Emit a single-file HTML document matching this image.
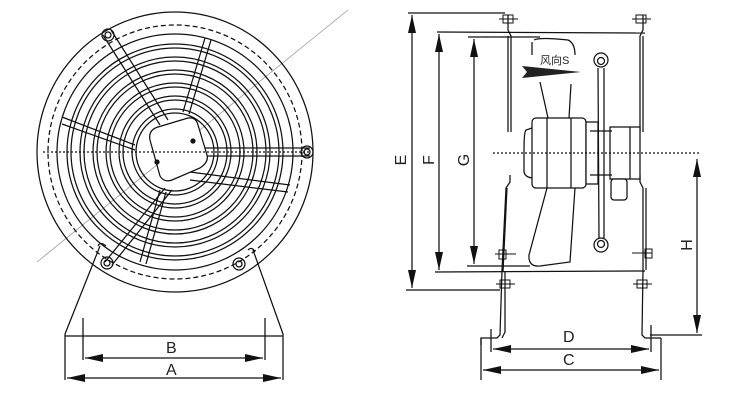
<!DOCTYPE html>
<html><head><meta charset="utf-8"><style>
html,body{margin:0;padding:0;background:#fff}
svg{display:block}
text{font-family:"Liberation Sans","Noto Sans CJK SC",sans-serif;fill:#222}
</style></head><body>
<svg width="750" height="400" viewBox="0 0 750 400" xmlns="http://www.w3.org/2000/svg">
<defs>
<marker id="arL" viewBox="0 0 18 8" refX="18" refY="4" markerWidth="18" markerHeight="8" orient="auto-start-reverse" markerUnits="userSpaceOnUse"><path d="M0,0 L18,4 L0,8 z" fill="#111"/></marker>
</defs>
<g fill="none" stroke="#111" stroke-width="1.25">
<!-- LEFT VIEW -->
<line x1="37" y1="262" x2="348" y2="10" stroke="#999" stroke-width="0.8"/>
<ellipse cx="175" cy="152" rx="138" ry="140"/>
<ellipse cx="175" cy="152" rx="127" ry="127" stroke-dasharray="5,3"/>
<circle cx="175" cy="152" r="118"/>
<circle cx="175" cy="152" r="108"/><circle cx="175" cy="152" r="104"/>
<circle cx="175" cy="152" r="95"/><circle cx="175" cy="152" r="91"/>
<circle cx="175" cy="152" r="82"/><circle cx="175" cy="152" r="78"/>
<circle cx="175" cy="152" r="69"/><circle cx="175" cy="152" r="65"/>
<circle cx="175" cy="152" r="56"/><circle cx="175" cy="152" r="52"/>
<circle cx="175" cy="152" r="43"/><circle cx="175" cy="152" r="39"/>
<path d="M103,35 L160,125 M111,30 L168,120"/>
<path d="M205,38 L183,112 M211,40 L189,114"/>
<path d="M62,117 L135,145 M62,124 L135,150"/>
<path d="M205,148 L310,148 M205,156 L310,156"/>
<path d="M190,172 L290,185 M190,180 L288,192"/>
<path d="M165,188 L105,262 M172,190 L112,265"/>
<path d="M160,190 L140,262 M166,192 L146,264"/>
<circle cx="108" cy="35" r="6"/><circle cx="108" cy="35" r="3"/>
<circle cx="307" cy="152" r="6"/><circle cx="307" cy="152" r="3"/>
<circle cx="107" cy="263" r="6"/><circle cx="107" cy="263" r="3"/>
<circle cx="239" cy="264" r="6"/><circle cx="239" cy="264" r="3"/>
<path d="M150,140 Q148,130 158,127 L188,118 Q196,117 198,125 L207,155 Q209,162 200,168 L172,180 Q164,183 160,176 Z" fill="#fff"/>
<line x1="43" y1="152" x2="310" y2="152" stroke-dasharray="2,2"/>
<circle cx="193" cy="141" r="2" fill="#111"/><circle cx="157" cy="162" r="2" fill="#111"/>
<path d="M100,246 L65,334 M253,250 L283,334"/>
<path d="M98,246 Q100,241 106,246 M248,250 Q252,246 255,252"/>
<path d="M65,334 L65,380 M283,334 L283,380 M83,318 L83,360 M265,318 L265,360"/>
<line x1="65" y1="336" x2="283" y2="336"/>
<line x1="85" y1="358" x2="263" y2="358" marker-start="url(#arL)" marker-end="url(#arL)"/>
<line x1="67" y1="378" x2="281" y2="378" marker-start="url(#arL)" marker-end="url(#arL)"/>

<!-- RIGHT VIEW -->
<line x1="408" y1="13" x2="505" y2="13"/><line x1="406" y1="290" x2="500" y2="290"/>
<line x1="412" y1="15" x2="412" y2="288" marker-start="url(#arL)" marker-end="url(#arL)"/>
<line x1="437" y1="32" x2="645" y2="33"/><line x1="435" y1="272" x2="645" y2="271"/>
<line x1="439" y1="34" x2="439" y2="270" marker-start="url(#arL)" marker-end="url(#arL)"/>
<line x1="468" y1="37" x2="540" y2="37"/><line x1="467" y1="266" x2="530" y2="266"/>
<line x1="474" y1="39" x2="474" y2="264" marker-start="url(#arL)" marker-end="url(#arL)"/>
<path d="M508,15 L508,30 L511,36 L511,132 M508,36 L508,132"/>
<path d="M510,175 L510,182 L506,188 L502,270 L500,335 L497,338 L481,338 L481,345"/>
<path d="M507,188 L503,272"/>
<path d="M643,15 L643,30 L640,36 L640,132 M643,36 L643,132"/>
<path d="M640,175 L640,182 L643,188 L643,270 L642,335 L645,338 L661,338"/>
<path d="M646,188 L646,270"/>
<path d="M505,272 L505,332 L502,338"/>
<g stroke-width="1">
<rect x="503" y="15" width="10" height="8"/><line x1="499" y1="19" x2="518" y2="19"/>
<rect x="636" y="15" width="10" height="8"/><line x1="632" y1="19" x2="651" y2="19"/>
<rect x="500" y="280" width="10" height="8"/><line x1="496" y1="284" x2="515" y2="284"/>
<rect x="637" y="280" width="10" height="8"/><line x1="633" y1="284" x2="652" y2="284"/>
<rect x="499" y="250" width="7" height="9"/><line x1="495" y1="254" x2="516" y2="254"/>
<rect x="645" y="249" width="7" height="9"/><line x1="632" y1="253" x2="652" y2="253"/>
</g>
<path d="M534,40 Q540,37 568,40 Q575,43 575,55 M532,42 L532,55"/>
<path d="M540,82 L548,118 M571,84 L569,118"/>
<path d="M547,188 L529,255 Q528,267 540,266 L570,262 L575,188"/>
<!-- guard bar continuous -->
<path d="M598,68 L599,238 M604,68 L604,238"/>
<rect x="532" y="118" width="54" height="70" rx="4" fill="#fff"/>
<path d="M532,128 L526,130 Q524,132 524,150 L524,172 Q525,177 532,178"/>
<line x1="547" y1="118" x2="547" y2="188"/><line x1="571" y1="118" x2="571" y2="188"/>
<rect x="586" y="122" width="12" height="62" fill="#fff"/>
<rect x="610" y="127" width="30" height="52" fill="#fff"/><line x1="630" y1="127" x2="630" y2="179"/>
<rect x="611" y="179" width="16" height="21" rx="3" fill="#fff"/>
<circle cx="601" cy="60" r="7" fill="#fff"/><circle cx="601" cy="61" r="3.5"/>
<circle cx="601" cy="245" r="7" fill="#fff"/><circle cx="601" cy="244" r="3.5"/>
<line x1="590" y1="131" x2="612" y2="131"/><line x1="590" y1="175" x2="612" y2="175"/>
<line x1="493" y1="153" x2="700" y2="153" stroke-dasharray="2,2"/>
<line x1="650" y1="335" x2="702" y2="335"/>
<line x1="697" y1="159" x2="697" y2="333" marker-start="url(#arL)" marker-end="url(#arL)"/>
<line x1="481" y1="338" x2="481" y2="380"/><line x1="661" y1="338" x2="661" y2="380"/>
<line x1="491" y1="329" x2="491" y2="352"/><line x1="651" y1="325" x2="651" y2="352"/>
<line x1="493" y1="349" x2="649" y2="349" marker-start="url(#arL)" marker-end="url(#arL)"/>
<line x1="483" y1="370" x2="659" y2="370" marker-start="url(#arL)" marker-end="url(#arL)"/>
</g>
<path d="M522,66 L581,72 L522,78 L527,72 Z" fill="#222"/>
<g font-size="16">
<text x="166" y="353">B</text><text x="166" y="375">A</text>
<text x="563" y="342">D</text><text x="563" y="365">C</text>
<text transform="translate(406,160) rotate(-90)" text-anchor="middle">E</text>
<text transform="translate(434,160) rotate(-90)" text-anchor="middle">F</text>
<text transform="translate(469,160) rotate(-90)" text-anchor="middle">G</text>
<text transform="translate(692,245) rotate(-90)" text-anchor="middle">H</text>
</g>
<text x="540" y="64" font-size="11">风向S</text>
</svg>
</body></html>
